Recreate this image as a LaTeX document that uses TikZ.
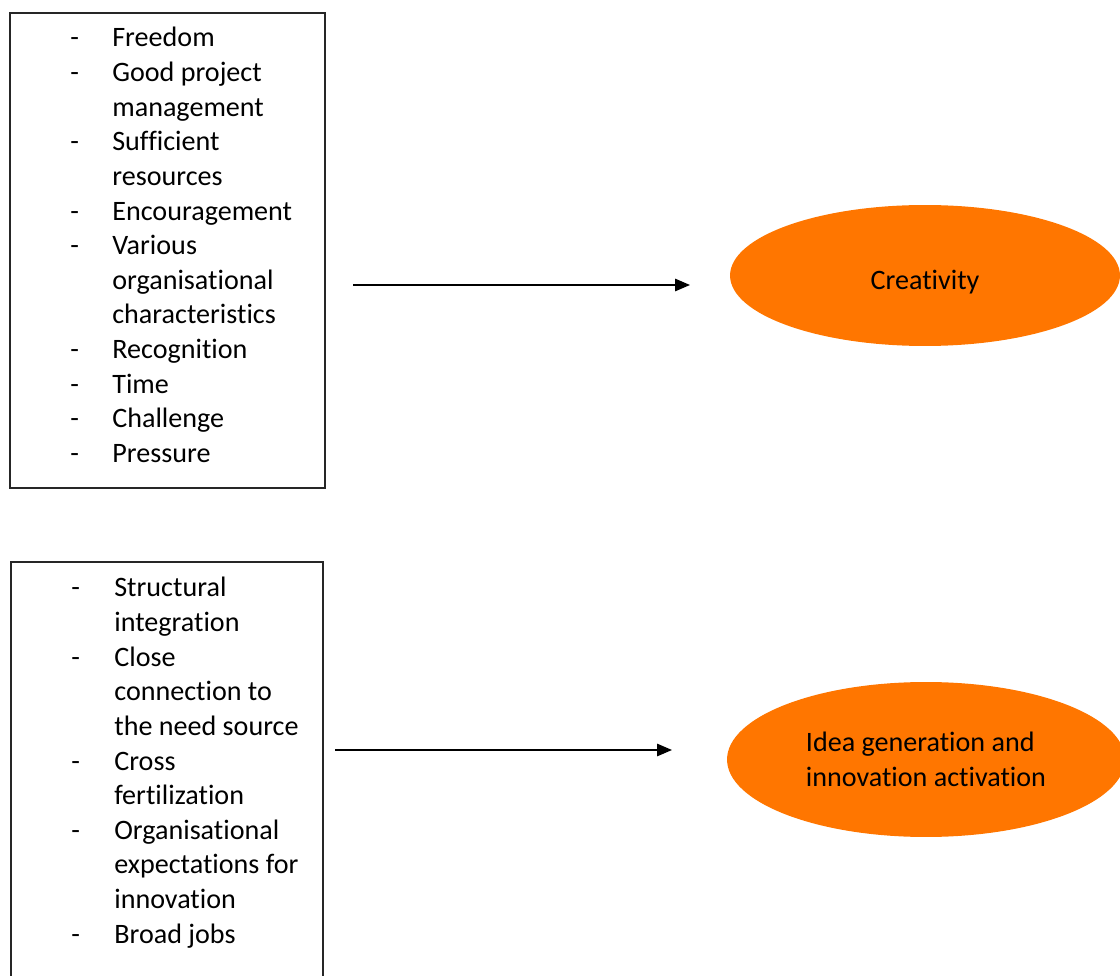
\documentclass[tikz,border=0pt]{standalone}
\usepackage{xcolor}
\usepackage{fontspec}
\setmainfont{Carlito}[Ligatures=NoCommon]
\usepackage{tikz}
\usetikzlibrary{arrows.meta,shapes.geometric,positioning}
\definecolor{ovalorange}{RGB}{255,118,0}
\tikzstyle{listbox}=[rectangle, draw=black!85, line width=0.7pt, inner sep=0pt]
\tikzstyle{listtext}=[inner sep=0pt, anchor=base west, font=\fontsize{16}{19.7}\selectfont]
\tikzstyle{outnode}=[ellipse, fill=ovalorange, inner sep=0pt, font=\fontsize{16}{19.7}\selectfont, align=left]
\tikzstyle{linkedge}=[-{Triangle[length=0.3cm,width=0.25cm]}, line width=0.8pt]

\begin{document}
\begin{tikzpicture}[x=0.02cm, y=-0.02cm]
    \useasboundingbox (0,0) rectangle (1120,976);
    \clip (0,0) rectangle (1120,976);

    % upper part
    \node[listbox, minimum width=6.3cm, minimum height=9.5cm] (factbox) at (167.5,250.5) {};
    \node[listtext] (factlist) at (70,47) {%
      \begin{tabular}[t]{@{}p{0.84cm}@{}l@{}}
        - & Freedom \\
        - & Good project \\
          & management \\
        - & Sufficient \\
          & resources \\
        - & Encouragement \\
        - & Various \\
          & organisational \\
          & characteristics \\
        - & Recognition \\
        - & Time \\
        - & Challenge \\
        - & Pressure
      \end{tabular}};
    \node[outnode, minimum width=7.8cm, minimum height=2.82cm] (creat) at (925,275.5)
      {\raisebox{0pt}[\dimexpr\height+0.28cm\relax]{Creativity}};
    \coordinate (creatin) at (353,285);
    \coordinate (creatend) at (690,285);
    \draw[linkedge] (creatin) -- (creatend);

    % lower part
    \node[listbox, minimum width=6.24cm, minimum height=8.76cm] (orgbox) at (167,781) {};
    \node[listtext] (orglist) at (71,597) {%
      \begin{tabular}[t]{@{}p{0.86cm}@{}l@{}}
        - & Structural \\
          & integration \\
        - & Close \\
          & connection to \\
          & the need source \\
        - & Cross \\
          & fertilization \\
        - & Organisational \\
          & expectations for \\
          & innovation \\
        - & Broad jobs
      \end{tabular}};
    \node[outnode, minimum width=7.96cm, minimum height=3.1cm] (ideagen) at (926,759.5) {Idea generation and\\innovation activation};
    \coordinate (ideain) at (335,750);
    \coordinate (ideaend) at (672,750);
    \draw[linkedge] (ideain) -- (ideaend);
\end{tikzpicture}
\end{document}
